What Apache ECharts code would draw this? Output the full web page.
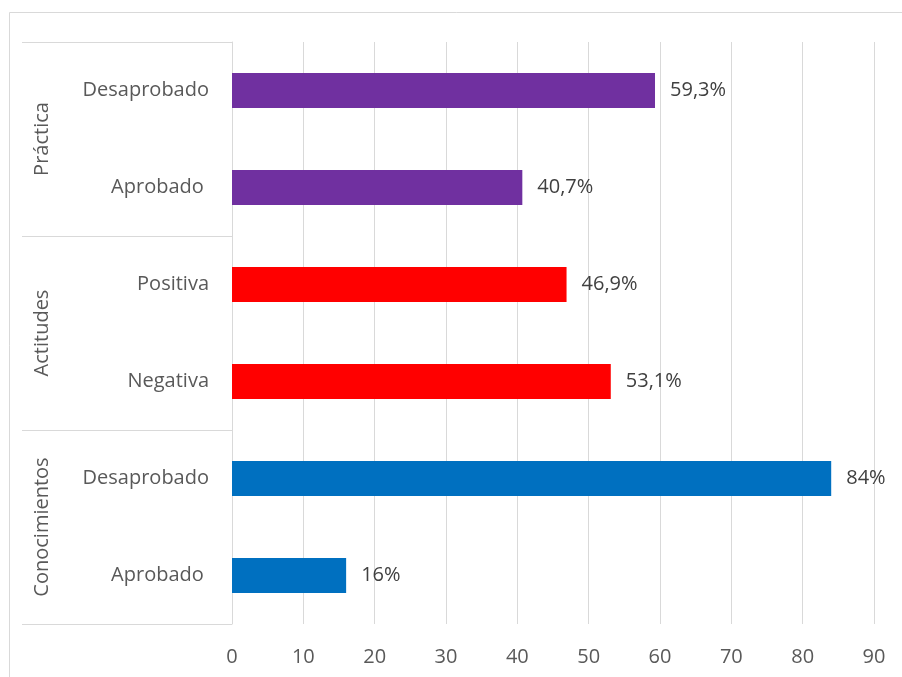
<!DOCTYPE html>
<html>
<head>
<meta charset="utf-8">
<script src="https://cdn.jsdelivr.net/npm/echarts@6/dist/echarts.min.js"></script>
<style>
html,body{margin:0;padding:0;background:#fff;}
#c{width:902px;height:677px;}
</style>
</head>
<body>
<div id="c"></div>
<script>
// Data (bottom to top)
var categories = ['Aprobado ', 'Desaprobado', 'Negativa', 'Positiva', 'Aprobado ', 'Desaprobado'];
var values = [16, 84, 53.1, 46.9, 40.7, 59.3];
var groups = ['Conocimientos', 'Actitudes', 'Práctica'];
var groupOfCategory = [0, 0, 1, 1, 2, 2];
var xTicks = [0, 10, 20, 30, 40, 50, 60, 70, 80, 90];

var groupColors = ['#0070C0', '#FF0000', '#7030A0'];
var FONT = 'Open Sans';
var FS = 20;

var chart = echarts.init(document.getElementById('c'));
chart.setOption({
  animation: false,
  backgroundColor: '#fff',
  textStyle: {fontFamily: FONT},
  graphic: [{
    type: 'rect', silent: true,
    shape: {x: 9.5, y: 12.5, width: 1000, height: 1000},
    style: {fill: 'none', stroke: '#d9d9d9', lineWidth: 1}
  }],
  grid: {left: 232, right: 28, top: 42, bottom: 53, containLabel: false},
  xAxis: {
    type: 'value', min: xTicks[0], max: xTicks[xTicks.length - 1], interval: 10,
    axisLine: {show: false}, axisTick: {show: false},
    splitLine: {show: true, lineStyle: {color: '#d9d9d9', width: 1}},
    axisLabel: {color: '#595959', fontSize: FS, fontFamily: FONT, margin: 23}
  },
  yAxis: [{
    type: 'category', data: categories, position: 'left',
    axisLine: {show: true, lineStyle: {color: '#d9d9d9', width: 1}},
    axisTick: {show: false},
    axisLabel: {color: '#595959', fontSize: FS, fontFamily: FONT, margin: 23, padding: [4, 0, 0, 0]}
  }, {
    type: 'category', data: groups, position: 'left', offset: 0,
    axisLine: {show: false},
    axisTick: {show: true, length: 210, lineStyle: {color: '#d9d9d9', width: 1}},
    axisLabel: {color: '#595959', fontSize: FS, fontFamily: FONT, rotate: 90, margin: 190, align: 'center', verticalAlign: 'middle'}
  }],
  series: [{
    type: 'bar', yAxisIndex: 0, barWidth: 35,
    data: values.map(function (v, i) {
      return {value: v, itemStyle: {color: groupColors[groupOfCategory[i]]}};
    }),
    label: {
      show: true, position: 'right', distance: 15,
      color: '#404040', fontSize: FS, fontFamily: FONT, padding: [4, 0, 0, 0],
      formatter: function (p) { return String(p.value).replace('.', ',') + '%'; }
    }
  }]
});
</script>
</body>
</html>
